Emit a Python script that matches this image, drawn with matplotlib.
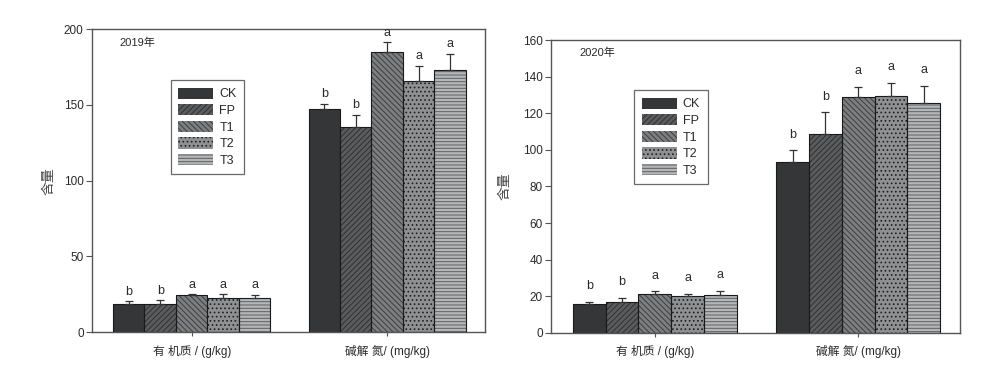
import matplotlib
matplotlib.use("Agg")
import matplotlib.pyplot as plt
import numpy as np

plt.rcParams['font.family'] = ['Liberation Sans', 'Noto Sans CJK SC', 'DejaVu Sans']
plt.rcParams['hatch.linewidth'] = 0.7

categories = ["有 机质 / (g/kg)", "碱解 氮/ (mg/kg)"]
series = ["CK", "FP", "T1", "T2", "T3"]

vals_2019 = {
    "CK": [18.3, 147.4],
    "FP": [18.3, 135.3],
    "T1": [24.4, 184.6],
    "T2": [22.7, 165.7],
    "T3": [22.2, 173.2],
}
err_2019 = {
    "CK": [2.2, 3.3],
    "FP": [2.7, 8.2],
    "T1": [0.6, 6.8],
    "T2": [2.3, 10.1],
    "T3": [2.4, 10.5],
}
letters_2019 = {
    "CK": ["b", "b"], "FP": ["b", "b"], "T1": ["a", "a"], "T2": ["a", "a"], "T3": ["a", "a"],
}

vals_2020 = {
    "CK": [16.0, 93.6],
    "FP": [16.6, 108.7],
    "T1": [21.3, 129.0],
    "T2": [20.4, 129.4],
    "T3": [20.9, 125.6],
}
err_2020 = {
    "CK": [0.9, 6.1],
    "FP": [2.7, 11.8],
    "T1": [1.3, 5.5],
    "T2": [0.9, 7.3],
    "T3": [2.2, 9.3],
}
letters_2020 = {
    "CK": ["b", "b"], "FP": ["b", "b"], "T1": ["a", "a"], "T2": ["a", "a"], "T3": ["a", "a"],
}

styles = {
    "CK": dict(face="#343638", hatch=None, hc="#343638"),
    "FP": dict(face="#5a5c5e", hatch="//////", hc="#2e3032"),
    "T1": dict(face="#7c7e80", hatch="\\\\\\\\\\\\", hc="#3c3e40"),
    "T2": dict(face="#8e9092", hatch="....", hc="#1e2022"),
    "T3": dict(face="#b4b6b8", hatch="-----", hc="#5e6062"),
}

fig = plt.figure(figsize=(10, 3.74), dpi=100)
ax1 = fig.add_axes([0.092, 0.112, 0.393, 0.810])
ax2 = fig.add_axes([0.551, 0.110, 0.409, 0.783])

width = 0.161
x = np.arange(len(categories))
spine_c = "#555555"
text_c = "#2a2a2a"


def draw(ax, vals, errs, letters, ymax, yticks, title, letter_off, legend_pos, ylpad):
    handles = []
    for i, s in enumerate(series):
        st = styles[s]
        pos = x + (i - 2) * width
        b = ax.bar(pos, vals[s], width, color=st["face"], hatch=st["hatch"],
                   edgecolor=st["hc"], linewidth=0, zorder=2)
        ax.bar(pos, vals[s], width, fill=False, edgecolor="#1a1a1a", linewidth=0.8, zorder=3)
        ax.errorbar(pos, vals[s], yerr=[np.zeros(len(x)), errs[s]], fmt="none",
                    ecolor="#333333", elinewidth=0.9, capsize=3, capthick=0.9, zorder=4)
        for p, v, e, l in zip(pos, vals[s], errs[s], letters[s]):
            ax.annotate(l, (p, v + e), xytext=(0, letter_off), textcoords="offset points",
                        ha="center", va="bottom", fontsize=9, color=text_c)
        handles.append(b)
    ax.set_xlim(-0.51, 1.50)
    ax.set_ylim(0, ymax)
    ax.set_yticks(yticks)
    ax.set_xticks(x)
    ax.set_xticklabels(categories, fontsize=8.5, color=text_c)
    ax.tick_params(axis="y", direction="out", length=4, width=0.8, labelsize=8.5,
                   colors=spine_c, labelcolor=text_c, pad=2)
    ax.tick_params(axis="x", direction="out", length=3, width=0.8, colors=spine_c,
                   labelcolor=text_c, pad=6)
    for sp in ax.spines.values():
        sp.set_color(spine_c)
        sp.set_linewidth(1.0)
    ax.set_ylabel("含量", fontsize=10, color="#444444", labelpad=ylpad)
    ax.text(0.07, 0.955, title, transform=ax.transAxes, fontsize=8, color=text_c,
            va="center", ha="left")
    leg = ax.legend(handles, series, loc="upper left", bbox_to_anchor=legend_pos,
                    fontsize=9, frameon=True, fancybox=False, edgecolor="#444444",
                    handlelength=2.8, handleheight=1.0, labelspacing=0.3,
                    borderpad=0.6, handletextpad=0.5, borderaxespad=0)
    leg.get_frame().set_linewidth(0.9)
    for t in leg.get_texts():
        t.set_color(text_c)


draw(ax1, vals_2019, err_2019, letters_2019, 200, [0, 50, 100, 150, 200], "2019年", 2.5,
     (0.2, 0.832), 6)
draw(ax2, vals_2020, err_2020, letters_2020, 160, list(range(0, 161, 20)), "2020年", 7,
     (0.203, 0.829), 8)

fig.savefig("out.png", dpi=100)
